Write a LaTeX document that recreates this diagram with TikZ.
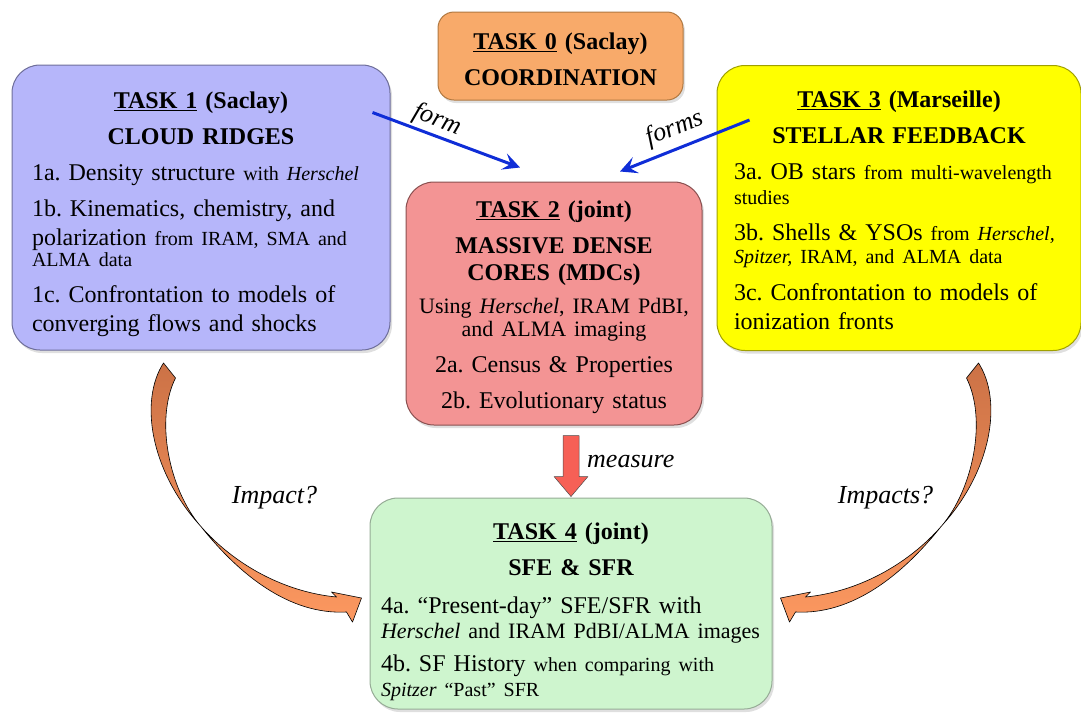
\documentclass[tikz,border=0pt]{standalone}
\usepackage{fontspec}
\setmainfont{Liberation Serif}
\usetikzlibrary{arrows.meta,calc,shadows}
\frenchspacing

\definecolor{t0fill}{RGB}{248,170,106}
\definecolor{t0line}{RGB}{176,120,64}
\definecolor{t1fill}{RGB}{182,182,250}
\definecolor{t1line}{RGB}{110,110,154}
\definecolor{t2fill}{RGB}{243,148,148}
\definecolor{t2line}{RGB}{138,80,80}
\definecolor{t3fill}{RGB}{255,255,0}
\definecolor{t3line}{RGB}{160,160,0}
\definecolor{t4fill}{RGB}{206,245,206}
\definecolor{t4line}{RGB}{150,172,150}
\definecolor{formblue}{RGB}{15,45,215}
\definecolor{measred}{RGB}{246,96,86}
\definecolor{impdark}{RGB}{204,114,70}
\definecolor{implight}{RGB}{252,152,96}

% title lines of a task box (optional arg: strut height of first line)
\newcommand{\tasktitle}[4][0pt]{{\centering\bfseries\rule{0pt}{#1}\underline{#2} #3\par #4\par}}
\newcommand{\smalltxt}[1]{{\fontsize{20}{24}\selectfont #1}}

% curved arrow outline, tip near (0,0)
\newcommand{\impactpath}{(-206,-240.5) .. controls (-230,-203.5) and (-220,-133.5) .. (-169,-77.5)
  .. controls (-130,-28.5) and (-80,11.5) .. (-23,8.5) -- (-17,18.5) -- (-8,-5.5) -- (-38,-11.5) -- (-33,-6.5)
  .. controls (-85,-11.5) and (-135,-38.5) .. (-169,-77.5)
  .. controls (-200,-113.5) and (-215,-183.5) .. (-194,-225.5) -- cycle}

\tikzset{
  taskbox/.style={rounded corners=28pt, line width=1pt,
    drop shadow={opacity=0.25,shadow xshift=2pt,shadow yshift=-3pt},
    inner xsep=4pt, inner ysep=4pt,
    font=\fontsize{24}{29}\selectfont\setlength{\parskip}{7pt}\setlength{\parindent}{0pt}},
  formarrow/.style={formblue, line width=3pt, -{Stealth[length=17pt,width=17pt,inset=7pt]}},
  measurearrow/.style={fill=measred, draw=black!70, line width=0.5pt},
  impactarrow/.style={top color=impdark, bottom color=implight, draw=black, line width=0.6pt},
  lbl/.style={font=\fontsize{26}{30}\selectfont\itshape, text=black, inner sep=2pt}
}

\begin{document}
\begin{tikzpicture}[x=1pt,y=-1pt,line join=round]
\useasboundingbox (0,0) rectangle (1081,713);

% task boxes
\node[taskbox, fill=t0fill, draw=t0line, rounded corners=16pt, minimum width=245pt,
  minimum height=88pt, text width=225pt, align=center] (t0) at (560.5,56)
  {\tasktitle[23pt]{TASK 0}{(Saclay)}{COORDINATION}};

\node[taskbox, fill=t1fill, draw=t1line, minimum width=378pt, minimum height=285pt,
  text width=338pt, align=left] (t1) at (201,207.5) {%
  \tasktitle[30pt]{TASK 1}{(Saclay)}{CLOUD RIDGES}
  1a. Density structure \smalltxt{with \textit{Herschel}}\par
  1b. Kinematics, chemistry, and\\
  polarization \smalltxt{from IRAM, SMA and}\\[-8pt]
  \smalltxt{ALMA data}\par
  1c. Confrontation to models of\\
  converging flows and shocks};

\node[taskbox, fill=t2fill, draw=t2line, minimum width=296pt, minimum height=243pt,
  text width=272pt, align=center] (t2) at (554,303.5) {%
  \tasktitle[24pt]{TASK 2}{(joint)}{MASSIVE DENSE\\[-2pt] CORES (MDCs)}
  \vspace{3pt}
  {\fontsize{22}{23}\selectfont Using \textit{Herschel}, IRAM PdBI,\\ and ALMA imaging\par}
  2a. Census \& Properties\par
  2b. Evolutionary status};

\node[taskbox, fill=t3fill, draw=t3line, minimum width=364pt, minimum height=285pt,
  text width=330pt, align=left] (t3) at (899,208) {%
  \tasktitle[22pt]{TASK 3}{(Marseille)}{STELLAR FEEDBACK}
  3a. OB stars \smalltxt{from multi-wavelength}\\[-4pt]
  \smalltxt{studies}\par
  3b. Shells \& YSOs \smalltxt{from \textit{Herschel,}}\\[-6pt]
  \smalltxt{\textit{Spitzer,} IRAM, and ALMA data}\par
  \vspace{1pt}
  3c. Confrontation to models of\\
  ionization fronts};

\node[taskbox, fill=t4fill, draw=t4line, minimum width=402pt, minimum height=211pt,
  text width=380pt, align=left] (t4) at (571,603.5) {%
  \tasktitle[34pt]{TASK 4}{(joint)}{SFE \& SFR}
  \vspace{2pt}
  4a. “Present-day” SFE/SFR with\\[-4pt]
  {\fontsize{22}{24}\selectfont\textit{Herschel} and IRAM PdBI/ALMA images}\par
  \vspace{-3pt}
  4b. SF History \smalltxt{when comparing with}\\[-4pt]
  \smalltxt{\textit{Spitzer} “Past” SFR}};

% form arrows
\coordinate (f1) at ([xshift=-18pt,yshift=-48pt]t1.north east);
\coordinate (f2) at ([xshift=-34pt,yshift=14pt]t2.north);
\coordinate (f3) at ([xshift=33pt,yshift=-55pt]t3.north west);
\coordinate (f4) at ([xshift=66pt,yshift=10pt]t2.north);

\draw[formarrow] (f1) -- (f2) node[lbl, pos=0.4, sloped, above=0pt] (lform) {form};
\draw[formarrow] (f3) -- (f4) node[lbl, pos=0.52, sloped, above=4pt] (lforms) {forms};

% measure arrow
\coordinate (m) at ([yshift=1pt]t4.north);
\draw[measurearrow] (m) ++(-8,-61) -- ++(16,0) -- ++(0,41) -- ++(9,0) -- (m)
  -- ++(-17,-20) -- ++(9,0) -- cycle;
\node[lbl, anchor=west] (lmeasure) at ([xshift=14pt,yshift=35pt]m) {measure};

% impact arrows
\begin{scope}[shift={(t4.west)}]
  \shadedraw[impactarrow] \impactpath;
\end{scope}
\begin{scope}[shift={(t4.east)}, xscale=-1]
  \shadedraw[impactarrow] \impactpath;
\end{scope}

\node[lbl] (limpact) at ([xshift=-95pt,yshift=106pt]t4.west) {Impact?};
\node[lbl] (limpacts) at ([xshift=113pt,yshift=106pt]t4.east) {Impacts?};

\end{tikzpicture}
\end{document}
